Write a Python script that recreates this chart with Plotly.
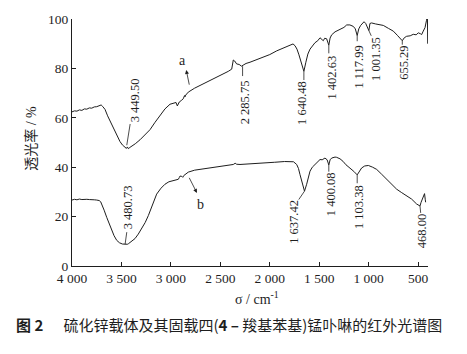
import plotly.graph_objects as go

# ---------------- data ----------------
a_wn = [4000, 3975, 3950, 3925, 3900, 3875, 3850, 3825, 3800, 3775, 3750, 3725, 3705, 3690,
        3666, 3640, 3610, 3582, 3550, 3515, 3490, 3464, 3450, 3440, 3430, 3415, 3396, 3360,
        3312, 3260, 3211, 3160, 3110, 3060, 3009, 2975, 2948, 2935, 2925, 2915, 2895, 2875,
        2862, 2857, 2850, 2840, 2824, 2760, 2700, 2605, 2500, 2420, 2385, 2375, 2369, 2355,
        2335, 2310, 2285, 2270, 2240, 2200, 2130, 2066, 2000, 1930, 1860, 1796, 1765, 1745,
        1725, 1705, 1680, 1655, 1635, 1615, 1593, 1570, 1543, 1515, 1492, 1470, 1459, 1445,
        1425, 1403, 1390, 1374, 1340, 1290, 1250, 1222, 1190, 1155, 1135, 1116, 1100, 1081,
        1060, 1047, 1030, 1012, 998, 987, 970, 930, 890, 852, 800, 751, 710, 680, 660, 640,
        616, 580, 549, 520, 498, 475, 464, 448, 430, 415, 406, 403]
a_T = [62.4, 62.8, 62.7, 63.2, 63.0, 63.6, 63.5, 64.0, 63.9, 64.4, 64.5, 65.0, 65.2, 64.6,
       63.4, 60.8, 58.2, 55.7, 53.0, 50.4, 49.0, 48.3, 47.6, 48.2, 47.5, 48.0, 48.4, 49.5,
       51.1, 53.3, 55.2, 58.2, 61.1, 63.6, 65.5, 66.0, 66.2, 64.8, 65.6, 66.4, 67.0, 67.7,
       69.0, 68.5, 69.2, 69.8, 70.4, 72.0, 73.2, 74.9, 77.0, 78.8, 79.7, 81.5, 83.4, 83.0,
       81.8, 81.6, 80.9, 81.3, 82.0, 82.5, 83.5, 84.4, 85.6, 87.1, 88.4, 89.6, 89.9, 89.2,
       87.8, 85.5, 81.8, 78.8, 82.5, 85.8, 87.8, 89.2, 90.4, 91.2, 92.4, 91.6, 91.2, 92.2,
       92.0, 89.4, 92.3, 93.6, 94.8, 95.8, 96.6, 97.6, 97.6, 97.0, 96.0, 93.3, 96.0, 97.4,
       98.4, 98.9, 98.2, 96.8, 95.3, 98.2, 98.4, 98.0, 97.8, 97.4, 96.2, 95.1, 93.4, 92.2,
       91.2, 92.4, 93.0, 93.2, 93.8, 93.6, 94.4, 94.0, 93.7, 95.1, 96.5, 99.5, 101.5, 90.0]

b_wn = [4000, 3975, 3950, 3925, 3900, 3875, 3850, 3825, 3800, 3775, 3750, 3725, 3710, 3700,
        3675, 3649, 3620, 3599, 3575, 3548, 3520, 3490, 3463, 3440, 3430, 3400, 3363, 3330,
        3295, 3260, 3228, 3190, 3144, 3100, 3060, 3020, 2976, 2950, 2925, 2915, 2908, 2890,
        2880, 2870, 2850, 2824, 2760, 2700, 2605, 2500, 2420, 2369, 2350, 2335, 2301, 2200,
        2066, 1950, 1850, 1796, 1760, 1728, 1710, 1695, 1675, 1649, 1627, 1610, 1593, 1570,
        1543, 1515, 1492, 1470, 1442, 1420, 1403, 1390, 1374, 1340, 1324, 1290, 1260, 1230,
        1189, 1150, 1116, 1095, 1071, 1040, 1003, 960, 919, 870, 818, 770, 717, 670, 616,
        566, 515, 495, 481, 470, 458, 445, 435, 428, 424]
b_T = [26.7, 27.0, 26.8, 27.1, 26.9, 27.1, 27.0, 26.9, 27.0, 26.8, 26.7, 26.5, 26.0, 25.1,
       22.6, 19.7, 16.5, 14.4, 12.3, 10.4, 9.4, 8.9, 8.8, 8.8, 9.0, 9.8, 11.1, 12.9,
       15.1, 17.6, 20.4, 24.5, 29.1, 31.5, 33.1, 34.1, 34.7, 35.0, 35.1, 35.8, 36.4, 36.3,
       35.9, 36.6, 37.2, 38.0, 38.8, 39.2, 39.8, 40.4, 40.8, 41.1, 41.6, 41.2, 41.1, 41.3,
       41.7, 42.0, 42.3, 42.4, 42.2, 41.1, 39.5, 37.1, 33.8, 30.3, 33.1, 36.0, 38.4, 40.0,
       41.1, 42.0, 43.1, 43.0, 43.7, 43.0, 40.9, 43.0, 43.7, 44.1, 44.0, 43.4, 42.4, 41.0,
       39.7, 38.3, 36.9, 38.5, 39.7, 40.5, 40.7, 40.0, 39.1, 37.2, 35.1, 33.2, 31.1, 29.8, 28.4,
       27.1, 25.1, 24.6, 24.3, 25.8, 27.0, 28.3, 29.3, 27.0, 25.8]

x_tickvals = [4000, 3500, 3000, 2500, 2000, 1500, 1000, 500]
x_ticktext = ["4 000", "3 500", "3 000", "2 500", "2 000", "1 500", "1 000", "500"]
y_tickvals = [0, 20, 40, 60, 80, 100]

# peak labels: text, text x, text y, anchor, leader (x0, y0, x1, y1)
peak_labels = [
    ("3 449.50", 3362, 58.2, "bottom", (3446, 48.9, 3412, 57.5)),
    ("2 285.75", 2247, 75.3, "top", (2275, 80.9, 2275, 76.9)),
    ("1 640.48", 1675, 74.9, "top", (1655, 78.8, 1655, 75.3)),
    ("1 402.63", 1366, 85.4, "top", (1403, 89.4, 1403, 86.1)),
    ("1 117.99", 1099, 89.4, "top", (1116, 93.3, 1116, 91.0)),
    ("1 001.35", 927, 92.7, "top", (998, 95.3, 974, 93.2)),
    ("655.29", 651, 89.2, "top", (660, 91.2, 660, 89.6)),
    ("3 480.73", 3430, 15.0, "bottom", (3463, 8.8, 3446, 13.7)),
    ("1 637.42", 1758, 26.7, "top", (1649, 30.3, 1707, 26.9)),
    ("1 400.08", 1386, 37.8, "top", (1403, 40.9, 1403, 38.2)),
    ("1 103.38", 1099, 32.7, "top", (1116, 36.9, 1116, 33.5)),
    ("468.00", 457, 21.1, "top", (481, 24.3, 474, 21.5)),
]

INK = "#1e1e1e"
SERIF = "Times New Roman, Liberation Serif, Tinos, serif"
CJK = "Times New Roman, Liberation Serif, Noto Sans CJK SC, serif"

fig = go.Figure()
fig.add_trace(go.Scatter(x=a_wn, y=a_T, mode="lines", line=dict(color=INK, width=1),
                         showlegend=False, hoverinfo="skip"))
fig.add_trace(go.Scatter(x=b_wn, y=b_T, mode="lines", line=dict(color=INK, width=1),
                         showlegend=False, hoverinfo="skip"))

annotations = []
shapes = []
for text, tx, ty, anc, (x0, y0, x1, y1) in peak_labels:
    annotations.append(dict(x=tx, y=ty, xref="x", yref="y", text=text, textangle=-90,
                            showarrow=False, xanchor="center", yanchor=anc,
                            borderpad=0, borderwidth=0,
                            font=dict(family=SERIF, size=12.5, color=INK)))
    shapes.append(dict(type="line", xref="x", yref="y", x0=x0, y0=y0, x1=x1, y1=y1,
                       line=dict(color=INK, width=0.8)))

# curve identifiers with arrows
annotations += [
    dict(x=2878, y=83.4, xref="x", yref="y", text="a", showarrow=False,
         font=dict(family=SERIF, size=14, color=INK)),
    dict(x=2845, y=79.4, ax=2811, ay=72.8, xref="x", yref="y", axref="x", ayref="y",
         text="", showarrow=True, arrowhead=2, arrowsize=1, arrowwidth=0.8, arrowcolor=INK),
    dict(x=2703, y=25.0, xref="x", yref="y", text="b", showarrow=False,
         font=dict(family=SERIF, size=14, color=INK)),
    dict(x=2737, y=29.6, ax=2822, ay=36.3, xref="x", yref="y", axref="x", ayref="y",
         text="", showarrow=True, arrowhead=2, arrowsize=1, arrowwidth=0.8, arrowcolor=INK),
    # axis titles
    dict(x=0, y=0.515, xref="paper", yref="paper", xshift=-41, text="透光率 / %",
         textangle=-90, showarrow=False, xanchor="center", yanchor="middle",
         font=dict(family=CJK, size=14, color=INK)),
    dict(x=0.5, y=0, xref="paper", yref="paper", xshift=7, yshift=-32,
         text="σ / cm<sup>-1</sup>", showarrow=False, xanchor="center", yanchor="middle",
         font=dict(family=SERIF, size=14, color=INK)),
    # caption
    dict(x=0.5, y=0, xref="paper", yref="paper", xshift=-21, yshift=-58,
         text="<b>图 2</b>      硫化锌载体及其固载四(<b>4 –</b> 羧基苯基)锰卟啉的红外光谱图",
         showarrow=False, xanchor="center", yanchor="middle",
         font=dict(family="Noto Sans CJK SC", size=15, color=INK)),
]

fig.update_layout(
    width=467, height=354,
    margin=dict(l=72, r=39, t=15, b=88),
    paper_bgcolor="white", plot_bgcolor="white",
    annotations=annotations, shapes=shapes,
    showlegend=False,
    font=dict(family=SERIF, color=INK),
)
fig.update_xaxes(range=[4000, 400], tickvals=x_tickvals, ticktext=x_ticktext,
                 showline=True, linecolor=INK, linewidth=1, ticks="inside", ticklen=4,
                 tickcolor=INK, tickwidth=1, showgrid=False, zeroline=False,
                 tickfont=dict(family=SERIF, size=13.5, color=INK))
fig.update_yaxes(range=[0, 100], tickvals=y_tickvals,
                 showline=True, linecolor=INK, linewidth=1, ticks="inside", ticklen=4,
                 tickcolor=INK, tickwidth=1, showgrid=False, zeroline=False,
                 tickfont=dict(family=SERIF, size=13.5, color=INK))

fig.write_html("out.html")
